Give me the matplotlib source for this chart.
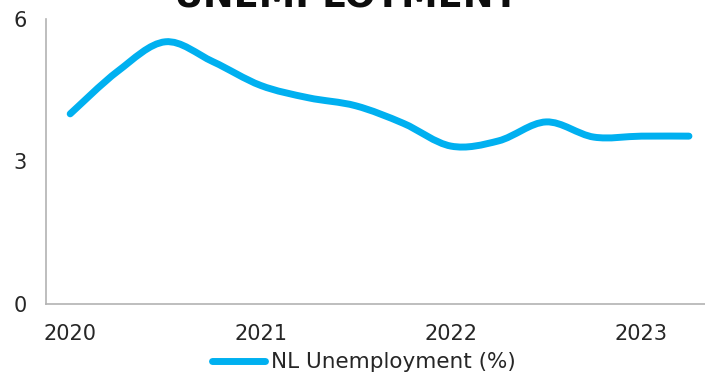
import numpy as np
import matplotlib
matplotlib.use("Agg")
import matplotlib.pyplot as plt
from matplotlib.path import Path
from matplotlib.patches import PathPatch
from matplotlib.lines import Line2D

# quarterly NL unemployment, 2020 Q1 .. 2023 Q2
quarters = ["2020Q1", "2020Q2", "2020Q3", "2020Q4",
            "2021Q1", "2021Q2", "2021Q3", "2021Q4",
            "2022Q1", "2022Q2", "2022Q3", "2022Q4",
            "2023Q1", "2023Q2"]
unemployment = [4.0, 4.9, 5.52, 5.1, 4.6, 4.34, 4.17, 3.8,
                3.32, 3.43, 3.83, 3.51, 3.53, 3.53]
year_labels = ["2020", "2021", "2022", "2023"]
y_ticks = [0, 3, 6]

LINE_COLOR = "#00B0F0"
TEXT_COLOR = "#262626"


def smooth_path(xs, ys, tension=1 / 6):
    # catmull-rom style bezier segments, like a spreadsheet "smoothed line"
    pts = np.column_stack([xs, ys]).astype(float)
    n = len(pts)
    verts = [pts[0]]
    codes = [Path.MOVETO]
    for i in range(n - 1):
        p0 = pts[i - 1] if i > 0 else pts[i]
        p1 = pts[i]
        p2 = pts[i + 1]
        p3 = pts[i + 2] if i + 2 < n else pts[i + 1]
        c1 = p1 + (p2 - p0) * tension
        c2 = p2 - (p3 - p1) * tension
        verts += [c1, c2, p2]
        codes += [Path.CURVE4] * 3
    return Path(verts, codes)


fig = plt.figure(figsize=(7.05, 3.76), dpi=100)
ax = fig.add_axes([0.0658, 0.1928, 0.9452, 0.7566])

x = np.arange(len(quarters))
patch = PathPatch(smooth_path(x, unemployment), fill=False, edgecolor=LINE_COLOR,
                  lw=5, capstyle="round", joinstyle="round")
ax.add_patch(patch)

ax.set_xlim(-0.5, len(quarters) - 0.5)
ax.set_ylim(0, 6)
ax.set_yticks(y_ticks)
ax.set_xticks(x[::4])
ax.set_xticklabels(year_labels)
ax.tick_params(axis="both", length=0, labelsize=15, colors=TEXT_COLOR)
ax.tick_params(axis="y", pad=14)
ax.tick_params(axis="x", pad=15)

for side in ["top", "right"]:
    ax.spines[side].set_visible(False)
for side in ["left", "bottom"]:
    ax.spines[side].set_color("#b3b3b3")
    ax.spines[side].set_linewidth(1.2)

fig.text(0.491, 0.981, "UNEMPLOYMENT", ha="center", va="baseline",
         fontsize=26.5, fontweight="bold", color="#0d0d0d")

handle = Line2D([], [], color=LINE_COLOR, lw=5, solid_capstyle="round")
fig.legend([handle], ["NL Unemployment (%)"], loc="center",
           bbox_to_anchor=(0.5156, 0.037), frameon=False, fontsize=15.5,
           handlelength=2.46, handletextpad=0.28, labelcolor=TEXT_COLOR,
           borderpad=0, borderaxespad=0)

fig.savefig("out.png", dpi=100)
